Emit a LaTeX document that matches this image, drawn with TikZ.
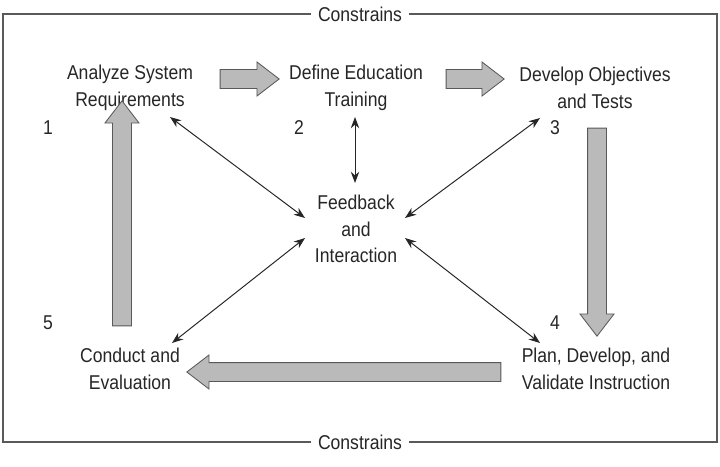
\documentclass[tikz,border=0pt]{standalone}
\usepackage{fontspec}
\setmainfont[FakeStretch=0.88]{Liberation Sans}
\usetikzlibrary{arrows.meta,shapes.arrows}

\begin{document}
\begin{tikzpicture}[
  x=0.025cm, y=-0.025cm,
  every node/.style={font=\fontsize{14.2}{18.8}\selectfont, text=black!85},
  stage/.style={align=center, inner sep=0pt},
  stepnum/.style={inner sep=0pt},
  link/.style={{Stealth[length=8pt,width=6pt]}-{Stealth[length=8pt,width=6pt]}, black!85, line width=0.7pt},
  flow/.style={single arrow, draw=black!65, fill=black!27, line width=0.6pt,
    inner xsep=0pt, inner ysep=0.225cm, single arrow head extend=0.19cm,
    single arrow tip angle=75, minimum width=0pt},
  frame/.style={draw=black!65, line width=0.8pt}
]
  \useasboundingbox (0,0) rectangle (720,466);

  % outer frame with constraint labels
  \draw[frame] (3,14) rectangle (717,442);
  \node[fill=white, inner xsep=5pt] (ctop) at (360,14) {Constrains};
  \node[fill=white, inner xsep=5pt] (cbot) at (360,442) {Constrains};

  % the five stages and the hub
  \node[stage] (a) at (130,88) {Analyze System\\Requirements};
  \node[stage] (b) at (356,88) {Define Education\\Training};
  \node[stage] (c) at (595,88) {Develop Objectives\\and Tests};
  \node[stage] (d) at (596,369) {Plan, Develop, and\\Validate Instruction};
  \node[stage] (e) at (130,369) {Conduct and\\Evaluation};
  \node[stage] (f) at (356,229) {Feedback\\and\\Interaction};

  % step numbers
  \node[stepnum] (n1) at (48,128) {1};
  \node[stepnum] (n2) at (299,128) {2};
  \node[stepnum] (n3) at (555,128) {3};
  \node[stepnum] (n4) at (555,323) {4};
  \node[stepnum] (n5) at (48,323) {5};

  % main cycle (block arrows)
  \node[flow, minimum height=1.475cm] (ab) at (243.5,79) {};
  \node[flow, minimum height=1.45cm] (bc) at (469,79) {};
  \node[flow, minimum height=5.2cm, rotate=-90] (cd) at (597,226) {};
  \node[flow, minimum height=7.85cm, rotate=180] (de) at (350,372) {};
  \node[flow, minimum height=5.625cm, rotate=90] (ea) at (122,219.5) {};

  % feedback links
  \draw[link] ([shift={(40,29)}]a.center) -- ([shift={(-51,-11)}]f.center);
  \draw[link] ([shift={(-1,29)}]b.center) -- ([shift={(-1,-46)}]f.center);
  \draw[link] ([shift={(-55,30)}]c.center) -- ([shift={(49,-11)}]f.center);
  \draw[link] ([shift={(42,-26)}]e.center) -- ([shift={(-51,9)}]f.center);
  \draw[link] ([shift={(-56,-26)}]d.center) -- ([shift={(49,9)}]f.center);

\end{tikzpicture}
\end{document}
